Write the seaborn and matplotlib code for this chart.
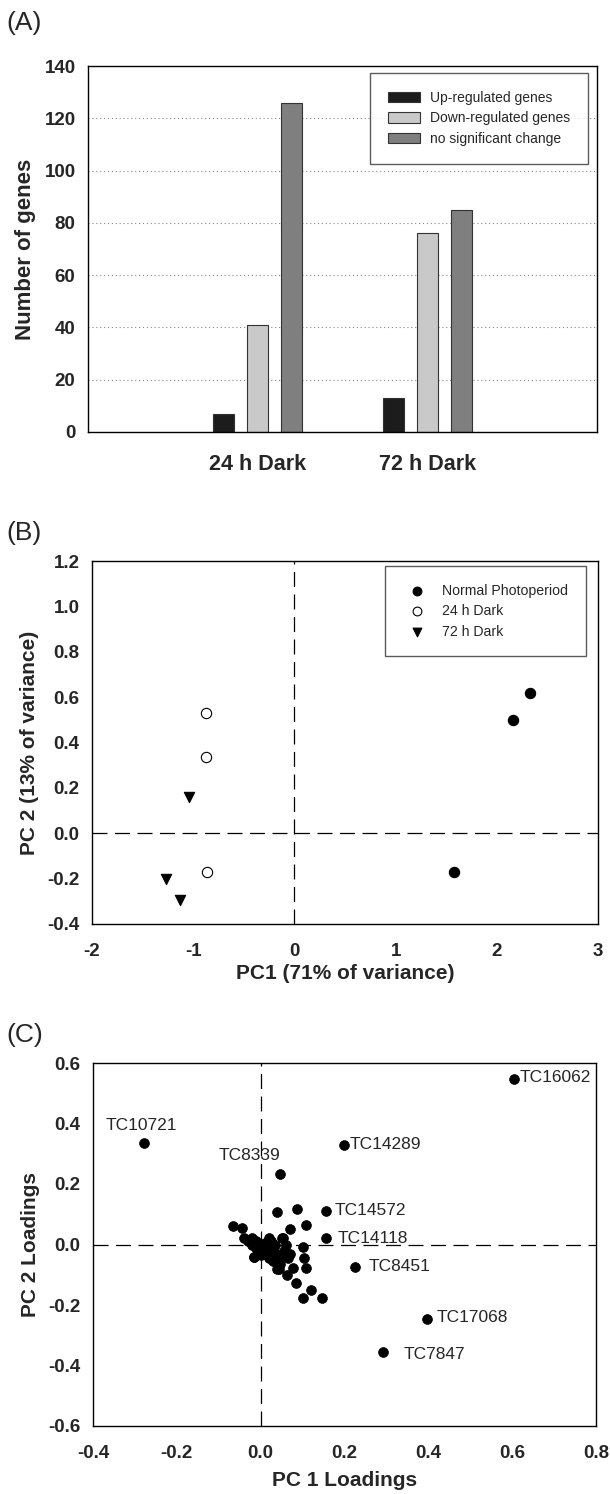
import numpy as np
import pandas as pd
import matplotlib
matplotlib.use("Agg")
import matplotlib.pyplot as plt
import seaborn as sns
from matplotlib.ticker import FormatStrFormatter

# ---------------- data ----------------
# Panel A
conditions = ["24 h Dark", "72 h Dark"]
gene_classes = ["Up-regulated genes", "Down-regulated genes", "no significant change"]
up_counts = [7, 13]
down_counts = [41, 76]
nochange_counts = [126, 85]

# Panel B
normal_pc1 = [2.33, 2.16, 1.58]
normal_pc2 = [0.62, 0.50, -0.173]
dark24_pc1 = [-0.877, -0.869, -0.865]
dark24_pc2 = [0.529, 0.336, -0.173]
dark72_pc1 = [-1.04, -1.27, -1.13]
dark72_pc2 = [0.158, -0.20, -0.295]

# Panel C (loadings)
labeled_genes = ["TC16062", "TC10721", "TC14289", "TC8339", "TC14572",
                 "TC14118", "TC8451", "TC17068", "TC7847"]
labeled_pc1 = [0.605, -0.278, 0.199, 0.046, 0.156, 0.156, 0.224, 0.396, 0.292]
labeled_pc2 = [0.548, 0.334, 0.330, 0.233, 0.111, 0.021, -0.074, -0.246, -0.355]
other_pc1 = [0.038, 0.087, 0.108, 0.070, -0.065, -0.044, 0.054, 0.101, 0.104,
             0.109, 0.076, 0.063, 0.084, 0.119, 0.101, 0.146, -0.015, 0.043,
             -0.040, -0.030, -0.020, -0.020, -0.010, -0.010, 0.000, 0.000,
             0.010, 0.010, 0.010, 0.020, 0.020, 0.020, 0.020, 0.025, 0.030,
             0.030, 0.030, 0.035, 0.040, 0.040, 0.045, 0.050, 0.050, 0.055,
             0.060, 0.060, 0.065, 0.070, 0.040, -0.015, 0.000, 0.015, 0.025]
other_pc2 = [0.108, 0.116, 0.066, 0.050, 0.062, 0.054, 0.021, -0.007, -0.046,
             -0.078, -0.078, -0.101, -0.126, -0.151, -0.178, -0.178, -0.041, -0.080,
             0.020, 0.010, 0.020, 0.000, 0.010, -0.010, 0.000, -0.020,
             0.005, -0.015, -0.030, 0.020, -0.010, -0.025, -0.045, -0.035, -0.020,
             -0.040, -0.055, 0.000, -0.030, -0.050, -0.065, -0.040, 0.020, -0.020,
             0.000, -0.030, -0.045, -0.030, -0.080, -0.040, -0.035, 0.000, 0.010]

# ---------------- style ----------------
sns.set_style("white")
plt.rcParams["font.family"] = ["Liberation Sans", "DejaVu Sans"]
plt.rcParams["axes.unicode_minus"] = False

W, H = 610, 1494
fig = plt.figure(figsize=(W / 100, H / 100), dpi=100)


def frac_axes(l, t, r, b):
    return fig.add_axes([l / W, 1 - b / H, (r - l) / W, (b - t) / H])


TICK_SIZE = 13.5
label_font = dict(fontsize=15, fontweight="bold")


def style_axes(ax, xpad=9.5, ypad=5):
    for sp in ax.spines.values():
        sp.set_color("black")
        sp.set_linewidth(1.0)
        sp.set_visible(True)
    ax.tick_params(axis="both", direction="out", length=4, width=1, color="black",
                   labelsize=TICK_SIZE)
    ax.tick_params(axis="x", pad=xpad)
    ax.tick_params(axis="y", pad=ypad)
    for lab in ax.get_xticklabels() + ax.get_yticklabels():
        lab.set_fontweight("bold")


# ---------------- Panel A ----------------
axA = frac_axes(88, 66, 597, 432)
dfA = pd.DataFrame({
    "condition": conditions * 3,
    "class": [gene_classes[0]] * 2 + [gene_classes[1]] * 2 + [gene_classes[2]] * 2,
    "count": up_counts + down_counts + nochange_counts,
})
bar_colors = ["#1c1c1c", "#c9c9c9", "#7f7f7f"]
sns.barplot(data=dfA, x="condition", y="count", hue="class", hue_order=gene_classes,
            palette=bar_colors, width=0.6, gap=0.37, edgecolor="#333333",
            linewidth=0.8, saturation=1, ax=axA)
axA.set_xlim(-1, 2)
axA.set_ylim(0, 140)
axA.set_yticks(np.arange(0, 141, 20))
axA.yaxis.grid(True, linestyle=(0, (1, 2.5)), color="#888888", linewidth=0.8)
axA.set_axisbelow(True)
axA.set_xlabel("")
axA.set_ylabel("Number of genes", fontsize=16, fontweight="bold", labelpad=6)
style_axes(axA, xpad=12)
axA.tick_params(axis="x", labelsize=15.5)
for lab in axA.get_xticklabels():
    lab.set_fontweight("bold")
handles, labels = axA.get_legend_handles_labels()
axA.legend(handles, labels, loc="upper left", bbox_to_anchor=(0.554, 0.981),
           fontsize=10, frameon=True, fancybox=False, edgecolor="#333333",
           handlelength=2.3, handleheight=0.75, handletextpad=0.7,
           borderpad=1.3, labelspacing=0.45, borderaxespad=0)
axA.get_legend().get_frame().set_linewidth(1.0)
fig.text(6 / W, 1 - 23 / H, "(A)", fontsize=19, va="center", ha="left")

# ---------------- Panel B ----------------
axB = frac_axes(92, 561, 598, 924)
axB.axhline(0, color="black", linewidth=0.9, dashes=(12, 6), zorder=1)
axB.axvline(0, color="black", linewidth=0.9, dashes=(12, 6), zorder=1)
sns.scatterplot(x=normal_pc1, y=normal_pc2, marker="o", color="black", s=55,
                edgecolor="black", linewidth=0.8, label="Normal Photoperiod", ax=axB, zorder=3)
sns.scatterplot(x=dark24_pc1, y=dark24_pc2, marker="o", color="white", s=55,
                edgecolor="black", linewidth=0.8, label="24 h Dark", ax=axB, zorder=3)
sns.scatterplot(x=dark72_pc1, y=dark72_pc2, marker="v", color="black", s=55,
                edgecolor="black", linewidth=0.8, label="72 h Dark", ax=axB, zorder=3)
axB.set_xlim(-2, 3)
axB.set_ylim(-0.4, 1.2)
axB.set_xticks(np.arange(-2, 4, 1))
axB.set_yticks(np.arange(-0.4, 1.21, 0.2))
axB.yaxis.set_major_formatter(FormatStrFormatter("%.1f"))
axB.set_xlabel("PC1 (71% of variance)", **label_font, labelpad=3)
axB.set_ylabel("PC 2 (13% of variance)", **label_font, labelpad=6)
style_axes(axB)
axB.legend(loc="upper left", bbox_to_anchor=(0.579, 0.986), fontsize=10.2,
           frameon=True, fancybox=False, edgecolor="#333333", handletextpad=0.8,
           borderpad=1.25, labelspacing=0.45, borderaxespad=0, markerscale=0.85)
axB.get_legend().get_frame().set_linewidth(1.0)
fig.text(6 / W, 1 - 533 / H, "(B)", fontsize=19, va="center", ha="left")

# ---------------- Panel C ----------------
axC = frac_axes(93, 1063, 596, 1426)
axC.axhline(0, color="black", linewidth=0.9, dashes=(12, 6), zorder=1)
axC.axvline(0, color="black", linewidth=0.9, dashes=(12, 6), zorder=1)
all_pc1 = labeled_pc1 + other_pc1
all_pc2 = labeled_pc2 + other_pc2
sns.scatterplot(x=all_pc1, y=all_pc2, color="black", s=50, edgecolor="black",
                linewidth=0.5, ax=axC, zorder=3, legend=False)
# label placement: (dx in points, dy in points, ha)
label_offsets = {
    "TC16062": (4, 1, "left"),
    "TC10721": (-2, 13, "center"),
    "TC14289": (4, 0, "left"),
    "TC8339": (-22, 13, "center"),
    "TC14572": (6, 0, "left"),
    "TC14118": (8, 0, "left"),
    "TC8451": (10, 0, "left"),
    "TC17068": (7, 1, "left"),
    "TC7847": (15, -2, "left"),
}
for name, px, py in zip(labeled_genes, labeled_pc1, labeled_pc2):
    dx, dy, ha = label_offsets[name]
    axC.annotate(name, (px, py), xytext=(dx, dy), textcoords="offset points",
                 ha=ha, va="center", fontsize=12.5, zorder=4)
axC.set_xlim(-0.4, 0.8)
axC.set_ylim(-0.6, 0.6)
axC.set_xticks(np.arange(-0.4, 0.81, 0.2))
axC.set_yticks(np.arange(-0.6, 0.61, 0.2))
axC.xaxis.set_major_formatter(FormatStrFormatter("%.1f"))
axC.yaxis.set_major_formatter(FormatStrFormatter("%.1f"))
axC.set_xlabel("PC 1 Loadings", **label_font, labelpad=7)
axC.set_ylabel("PC 2 Loadings", **label_font, labelpad=6)
style_axes(axC)
fig.text(6 / W, 1 - 1035 / H, "(C)", fontsize=19, va="center", ha="left")

fig.savefig("out.png", dpi=100, facecolor="white")
